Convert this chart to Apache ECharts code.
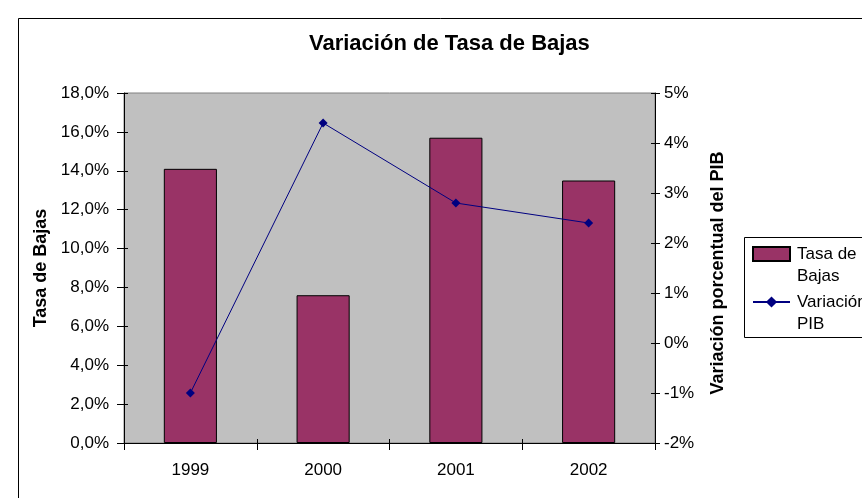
<!DOCTYPE html>
<html>
<head>
<meta charset="utf-8">
<script src="https://cdn.jsdelivr.net/npm/echarts@6/dist/echarts.min.js"></script>
<style>
    html, body { margin: 0; padding: 0; background: #fff; }
    #container { width: 862px; height: 498px; }
</style>
</head>
<body>
<div id="container"></div>
<script>
// datos
const years = ['1999', '2000', '2001', '2002']
const tasaBajas = [14.1, 7.6, 15.7, 13.5] // %
const variacionPIB = [-1.0, 4.4, 2.8, 2.4] // %

const font = 'Liberation Sans, Arial, sans-serif'

// ejes "de apoyo" sólo para dibujar las marcas cruzadas (tipo Excel) hacia dentro
const tickIn = (extra) =>
    Object.assign(
        {
            axisLine: { show: false, onZero: false },
            axisTick: { show: true, inside: true, length: 4, lineStyle: { color: '#000' } },
            axisLabel: { show: false },
            splitLine: { show: false },
        },
        extra
    )

let myChart = echarts.init(document.getElementById('container'))
let option = {
    animation: false,
    textStyle: { fontFamily: font },
    title: {
        text: 'Variación de Tasa de Bajas',
        left: 304,
        top: 28,
        textStyle: { fontSize: 22, fontWeight: 'bold', color: '#000', fontFamily: font },
    },
    graphic: [
        // borde exterior del gráfico
        {
            type: 'rect',
            shape: { x: 18.5, y: 18.5, width: 860, height: 500 },
            style: { fill: 'none', stroke: '#000', lineWidth: 1 },
            silent: true,
        },
        // marco de la leyenda
        {
            type: 'rect',
            shape: { x: 744.5, y: 237.5, width: 200, height: 100 },
            style: { fill: 'none', stroke: '#000', lineWidth: 1 },
            silent: true,
        },
    ],
    legend: {
        orient: 'vertical',
        left: 752,
        top: 221,
        padding: 0,
        itemGap: -18,
        itemWidth: 37,
        itemHeight: 14,
        textStyle: {
            fontSize: 17,
            color: '#000',
            lineHeight: 22,
            padding: [0, 0, 0, 2],
            fontFamily: font,
        },
        // línea vacía delante: la primera línea del texto queda a la altura del icono
        formatter: (name) => ' \n' + name.replace(' de ', ' de\n').replace('Variación ', 'Variación\n'),
        data: [
            { name: 'Tasa de Bajas', icon: 'rect' },
            { name: 'Variación PIB' },
        ],
    },
    grid: {
        left: 124,
        right: 207,
        top: 93,
        bottom: 55,
        show: true,
        backgroundColor: '#c0c0c0',
        borderColor: '#808080',
        borderWidth: 1,
    },
    xAxis: [
        {
            type: 'category',
            data: years,
            axisLine: { onZero: false, lineStyle: { color: '#000' } },
            axisTick: { show: true, length: 7, lineStyle: { color: '#000' } },
            axisLabel: { color: '#000', fontSize: 17, margin: 19 },
        },
        tickIn({ type: 'category', data: years, position: 'bottom' }),
    ],
    yAxis: [
        {
            type: 'value',
            min: 0,
            max: 18,
            interval: 2,
            name: 'Tasa de Bajas',
            nameLocation: 'middle',
            nameRotate: 90,
            nameGap: 74,
            nameTextStyle: { fontSize: 18, fontWeight: 'bold', color: '#000' },
            axisLine: { show: true, lineStyle: { color: '#000' } },
            axisTick: { show: true, length: 7, lineStyle: { color: '#000' } },
            splitLine: { show: false },
            axisLabel: {
                color: '#000',
                fontSize: 17,
                margin: 15,
                formatter: (v) => v.toFixed(1).replace('.', ',') + '%',
            },
        },
        {
            type: 'value',
            min: -2,
            max: 5,
            interval: 1,
            position: 'right',
            name: 'Variación porcentual del PIB',
            nameLocation: 'middle',
            nameRotate: 90,
            nameGap: 54,
            nameTextStyle: { fontSize: 18, fontWeight: 'bold', color: '#000', padding: [0, 10, 0, 0] },
            axisLine: { show: true, lineStyle: { color: '#000' } },
            axisTick: { show: true, length: 5, lineStyle: { color: '#000' } },
            splitLine: { show: false },
            axisLabel: {
                color: '#000',
                fontSize: 17,
                margin: 9,
                formatter: (v) => v + '%',
            },
        },
        tickIn({ type: 'value', min: 0, max: 18, interval: 2, position: 'left' }),
        tickIn({ type: 'value', min: -2, max: 5, interval: 1, position: 'right' }),
    ],
    series: [
        {
            name: 'Tasa de Bajas',
            type: 'bar',
            yAxisIndex: 0,
            barWidth: '40%',
            itemStyle: { color: '#993366', borderColor: '#000', borderWidth: 1 },
            data: tasaBajas,
        },
        {
            name: 'Variación PIB',
            type: 'line',
            yAxisIndex: 1,
            symbol: 'diamond',
            symbolSize: 9,
            lineStyle: { color: '#000080', width: 1 },
            itemStyle: { color: '#000080' },
            data: variacionPIB,
        },
    ],
}
myChart.setOption(option)
window.addEventListener('resize', myChart.resize)
</script>
</body>
</html>
